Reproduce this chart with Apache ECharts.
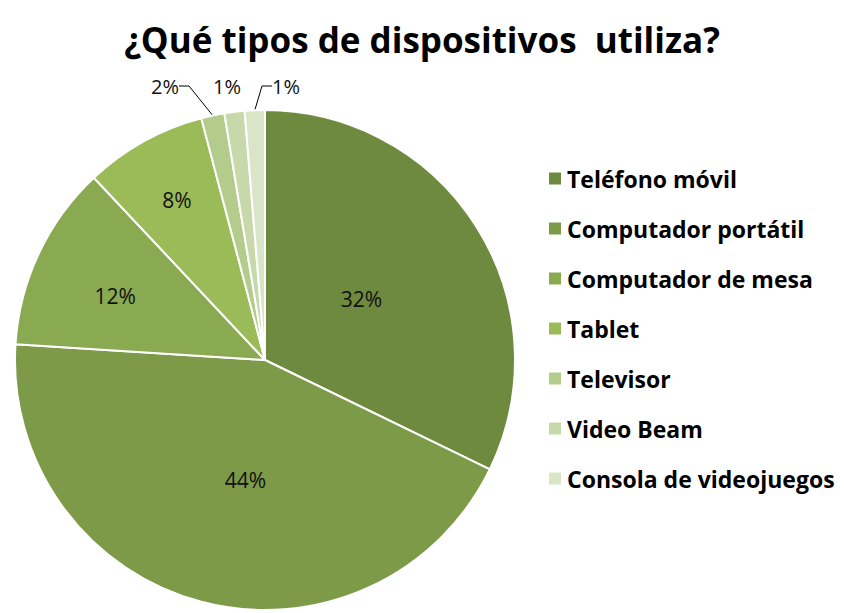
<!DOCTYPE html>
<html>
<head>
<meta charset="utf-8">
<script src="https://cdn.jsdelivr.net/npm/echarts@6/dist/echarts.min.js"></script>
<style>
  html, body { margin: 0; padding: 0; background: #fff; }
  #chart { width: 844px; height: 613px; }
</style>
</head>
<body>
<div id="chart"></div>
<script>
var categories = ['Teléfono móvil', 'Computador portátil', 'Computador de mesa', 'Tablet', 'Televisor', 'Video Beam', 'Consola de videojuegos'];
var shares = [32.2, 43.8, 12.0, 7.9, 1.5, 1.3, 1.3];
var colors = ['#6e8a3e', '#7d9a48', '#8aaa52', '#9bbb59', '#b3cb8b', '#c7d8aa', '#dae5c7'];

(function() {
  var font = '"Open Sans", Lato, sans-serif';
  // shifts that mimic Excel's best-fit label placement
  var insideShift = [[-12, 7], [13, -4], [-34, -10], [-26, -48]];
  // outside labels sit in a row above the small slices
  var outsideSpot = [[165, 86, 'center'], [227, 86, 'center'], [286, 86, 'center']];

  var data = categories.map(function(name, i) {
    var item = { name: name, value: shares[i], itemStyle: { color: colors[i] } };
    if (i < 4) {
      item.label = { position: 'inside', fontSize: 21 };
    } else {
      item.label = { position: 'outside' };
      item.labelLine = { show: i !== 5, length: 6, length2: 10 };
    }
    return item;
  });

  var chart = echarts.init(document.getElementById('chart'), null, { renderer: 'svg' });
  chart.setOption({
    animation: false,
    title: {
      text: '¿Qué tipos de dispositivos  utiliza?',
      left: 'center',
      top: 17,
      textStyle: { fontFamily: font, fontSize: 35, fontWeight: 'bold', color: '#000' }
    },
    legend: {
      orient: 'vertical',
      left: 542,
      top: 162,
      itemWidth: 14,
      itemHeight: 14,
      itemGap: 27,
      icon: 'rect',
      textStyle: { fontFamily: font, fontSize: 23, fontWeight: 'bold', color: '#000', lineHeight: 22.5 },
      data: categories
    },
    series: [{
      type: 'pie',
      center: [265, 360],
      radius: 250,
      startAngle: 90,
      clockwise: true,
      avoidLabelOverlap: false,
      itemStyle: { borderColor: '#fff', borderWidth: 2 },
      label: {
        fontFamily: font,
        fontSize: 20,
        color: '#111',
        formatter: function(p) { return Math.round(p.value) + '%'; }
      },
      labelLine: { lineStyle: { color: '#000', width: 1 } },
      labelLayout: function(p) {
        var i = p.dataIndex;
        if (i < 4) return { dx: insideShift[i][0], dy: insideShift[i][1] };
        var s = outsideSpot[i - 4];
        return { x: s[0], y: s[1], align: s[2], verticalAlign: 'middle' };
      },
      data: data
    }]
  });
})();
</script>
</body>
</html>
